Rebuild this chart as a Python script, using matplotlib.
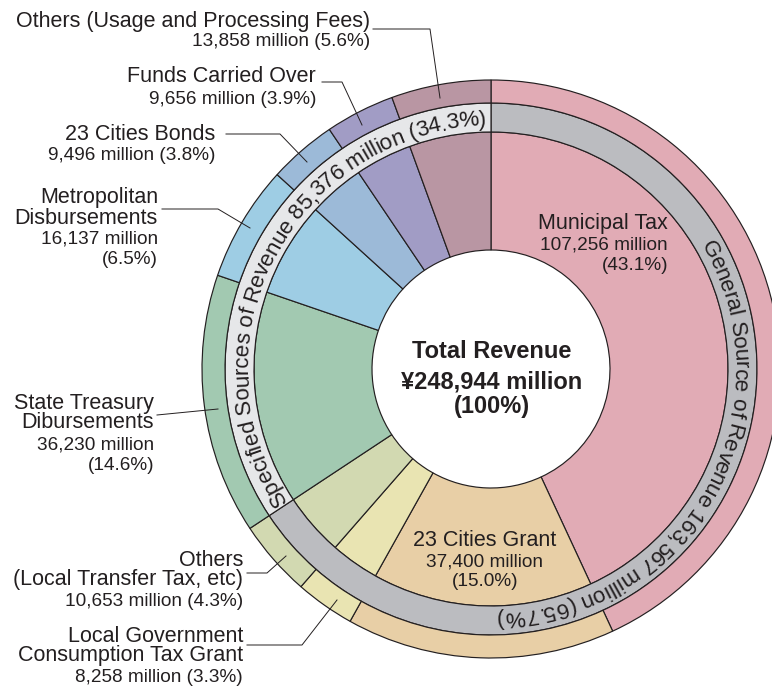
import numpy as np
import matplotlib
matplotlib.use("Agg")
import matplotlib.pyplot as plt
from matplotlib.font_manager import FontProperties

# ── Data ───────────────────────────────────────────────────────────────
categories = [
    "Municipal Tax",
    "23 Cities Grant",
    "Local Government\nConsumption Tax Grant",
    "Others\n(Local Transfer Tax, etc)",
    "State Treasury\nDibursements",
    "Metropolitan\nDisbursements",
    "23 Cities Bonds",
    "Funds Carried Over",
    "Others (Usage and Processing Fees)",
]
amounts = [107256, 37400, 8258, 10653, 36230, 16137, 9496, 9656, 13858]
shares = [43.1, 15.0, 3.3, 4.3, 14.6, 6.5, 3.8, 3.9, 5.6]

groups = ["General Source of Revenue", "Specified Sources of Revenue"]
group_amounts = [163567, 85376]
group_shares = [65.7, 34.3]

total_amount = 248944

# ── Styles ─────────────────────────────────────────────────────────────
colors = ["#e1abb5", "#e8cfa6", "#e9e4b2", "#d2d9b1", "#a2c9b1",
          "#9ecde4", "#9cbad8", "#a19cc5", "#b996a3"]
group_colors = ["#bbbcc0", "#e6e7e9"]
INK = "#231f20"
FONT = ["Liberation Sans", "DejaVu Sans"]
BIG, SMALL, CENTER, ARC = 15.5, 13.7, 17, 16.2

W, H = 772, 688
CX, CY = 491, H - 369
R_HOLE, R_IN, R_BAND, R_OUT = 119, 237, 266, 289

plt.rcParams["font.family"] = FONT

fig = plt.figure(figsize=(W / 100, H / 100), dpi=100)
ax = fig.add_axes([0, 0, 1, 1])

wedge = dict(edgecolor=INK, linewidth=0.85)
ax.pie(amounts, radius=R_IN, center=(CX, CY), startangle=90, counterclock=False,
       colors=colors, wedgeprops=dict(width=R_IN - R_HOLE, **wedge))
ax.pie(group_amounts, radius=R_BAND, center=(CX, CY), startangle=90, counterclock=False,
       colors=group_colors, wedgeprops=dict(width=R_BAND - R_IN, **wedge))
ax.pie(amounts, radius=R_OUT, center=(CX, CY), startangle=90, counterclock=False,
       colors=colors, wedgeprops=dict(width=R_OUT - R_BAND, **wedge))

ax.set_xlim(0, W)
ax.set_ylim(0, H)
ax.set_aspect("equal")
ax.axis("off")


def Y(y):
    return H - y


# ── Curved text in the band ────────────────────────────────────────────
renderer = fig.canvas.get_renderer()


def arc_text(s, theta_mid, r, fs):
    prop = FontProperties(family=FONT, size=fs)
    ref = renderer.get_text_width_height_descent("I", prop, ismath=False)[0]
    cum = [0.0] + [renderer.get_text_width_height_descent(s[:i + 1] + "I", prop, ismath=False)[0] - ref
                   for i in range(len(s))]
    total = cum[-1]
    fs_px = fs * 100 / 72
    rb = r - 0.36 * fs_px
    for i, ch in enumerate(s):
        if ch == " ":
            continue
        mid = (cum[i] + cum[i + 1]) / 2
        th = np.radians(theta_mid) + (total / 2 - mid) / r
        ax.text(CX + rb * np.cos(th), CY + rb * np.sin(th), ch, fontsize=fs, color=INK,
                rotation=np.degrees(th) - 90, rotation_mode="anchor",
                ha="center", va="baseline")


r_mid = (R_IN + R_BAND) / 2
arc_text(f"{groups[0]} {group_amounts[0]:,} million ({group_shares[0]:.1f}%)", -29, r_mid, ARC)
arc_text(f"{groups[1]} {group_amounts[1]:,} million ({group_shares[1]:.1f}%)", 152, r_mid, ARC)

# ── Center text ────────────────────────────────────────────────────────
center_lines = ["Total Revenue", f"¥{total_amount:,} million", "(100%)"]
for txt, y in zip(center_lines, [352, 382, 407]):
    ax.text(492, Y(y), txt, fontsize=CENTER, fontweight="bold", color=INK,
            ha="center", va="center")


def value_lines(i, split):
    if split:
        return [f"{amounts[i]:,} million", f"({shares[i]:.1f}%)"]
    return [f"{amounts[i]:,} million ({shares[i]:.1f}%)"]


def label(i, x, ys, ha="right", split=False):
    names = categories[i].split("\n")
    lines = [(t, BIG) for t in names] + [(t, SMALL) for t in value_lines(i, split)]
    for (t, fs), y in zip(lines, ys):
        ax.text(x, Y(y), t, fontsize=fs, color=INK, ha=ha, va="center")


# Labels inside the ring
label(0, 668, [224, 245, 265], split=True)
label(1, 485, [540, 562, 581], ha="center", split=True)

# Labels outside with leader lines
label(8, 370, [21, 42])
label(7, 316, [77, 100])
label(6, 215, [135, 156])
label(5, 158, [197, 218, 239, 259], split=True)
label(4, 154, [403, 423, 445, 465], split=True)
label(3, 243, [560, 580, 601])
label(2, 243, [636, 656, 677])

leaders = [
    [(373, 29), (430, 29), (440, 98)],
    [(322, 82), (342, 82), (362, 125)],
    [(226, 134), (280, 134), (307, 162)],
    [(162, 209), (218, 209), (250, 228)],
    [(157, 415), (218, 409)],
    [(247, 573), (267, 573), (286, 556)],
    [(247, 645), (302, 645), (337, 600)],
]
for pts in leaders:
    xs = [p[0] for p in pts]
    ys = [Y(p[1]) for p in pts]
    ax.plot(xs, ys, color=INK, lw=0.7)

fig.savefig("out.png", dpi=100, facecolor="white")
